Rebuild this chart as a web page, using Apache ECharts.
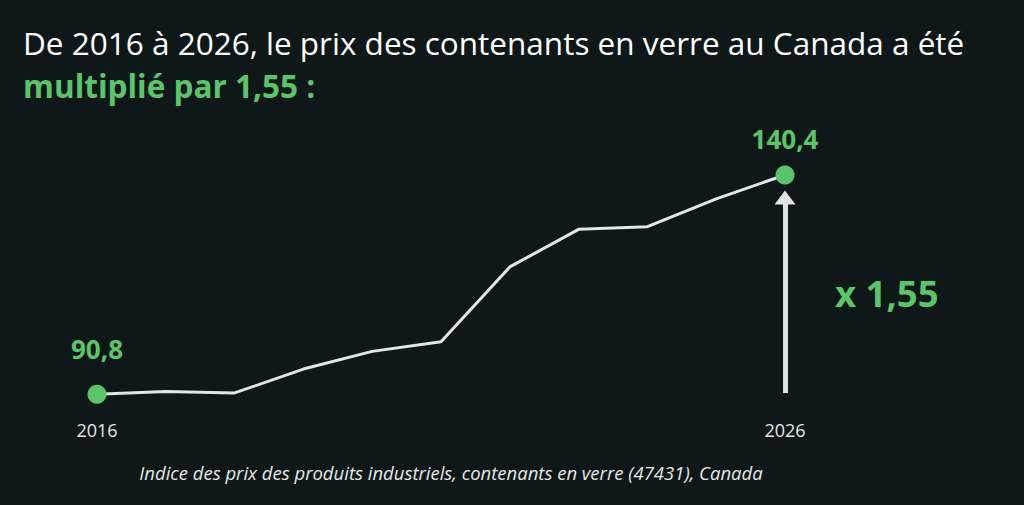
<!DOCTYPE html>
<html>
<head>
<meta charset="utf-8">
<script src="https://cdn.jsdelivr.net/npm/echarts@6/dist/echarts.min.js"></script>
<style>
  html, body { margin: 0; padding: 0; background: #0e1818; }
  #main { width: 1024px; height: 505px; }
</style>
</head>
<body>
<div id="main"></div>
<script>
// annees et indice des prix (contenants en verre, Canada)
var years = ['2016', '2017', '2018', '2019', '2020', '2021', '2022', '2023', '2024', '2025', '2026'];
var indexValues = [90.8, 91.4, 91.1, 96.5, 100.5, 102.7, 119.6, 128.1, 128.7, 135.0, 140.4];
var shownYears = ['2016', '2026'];
var arrowRange = [91.1, 135.3];

var green = '#5cc46b';
var font = '"Open Sans", sans-serif';

var fmt = function (v) { return v.toFixed(1).replace('.', ','); };

var seriesData = indexValues.map(function (v, i) {
  var first = i === 0, last = i === indexValues.length - 1;
  if (!first && !last) return { value: v, symbol: 'none' };
  return {
    value: v,
    symbol: 'circle',
    symbolSize: 19,
    itemStyle: { color: green },
    label: {
      show: true,
      position: 'top',
      distance: first ? 23 : 13,
      formatter: function (p) { return fmt(p.value); },
      color: green,
      fontFamily: font,
      fontWeight: 'bold',
      fontSize: 26
    }
  };
});

var chart = echarts.init(document.getElementById('main'), null, { renderer: 'svg' });
chart.setOption({
  backgroundColor: '#0e1818',
  animation: false,
  title: [
    {
      text: 'De 2016 à 2026, le prix des contenants en verre au Canada a été',
      left: 18, top: 21,
      textStyle: { color: '#ffffff', fontFamily: font, fontWeight: 'normal', fontSize: 31.5 }
    },
    {
      text: 'multiplié par 1,55 :',
      left: 18, top: 64,
      textStyle: { color: green, fontFamily: font, fontWeight: 'bold', fontSize: 31.5 }
    },
    {
      text: 'Indice des prix des produits industriels, contenants en verre (47431), Canada',
      left: 446, top: 458, textAlign: 'center',
      textStyle: { color: '#e4e8e8', fontFamily: font, fontStyle: 'italic', fontWeight: 'normal', fontSize: 18.5 }
    }
  ],
  graphic: [
    {
      type: 'text',
      left: 835, top: 274,
      style: { text: 'x 1,55', fill: green, font: 'bold 36.5px ' + font }
    }
  ],
  grid: { left: 97, right: 239, top: 150.2, bottom: 89.5 },
  xAxis: {
    type: 'category',
    data: years,
    boundaryGap: false,
    axisLine: { show: false },
    axisTick: { show: false },
    splitLine: { show: false },
    axisLabel: {
      margin: 5,
      color: '#e4e8e8',
      fontFamily: font,
      fontSize: 18,
      interval: function (i, name) { return shownYears.indexOf(name) >= 0; }
    }
  },
  yAxis: {
    type: 'value',
    min: 86, max: 146,
    show: false
  },
  series: [
    {
      type: 'line',
      data: seriesData,
      lineStyle: { color: '#e2e6e6', width: 3 },
      z: 3,
      markLine: {
        silent: true,
        symbol: ['none', 'triangle'],
        symbolSize: [21, 14],
        label: { show: false },
        lineStyle: { color: '#dde2e2', width: 5, type: 'solid' },
        data: [[
          { coord: [years.length - 1, arrowRange[0]] },
          { coord: [years.length - 1, arrowRange[1]] }
        ]]
      }
    }
  ]
});
</script>
</body>
</html>
